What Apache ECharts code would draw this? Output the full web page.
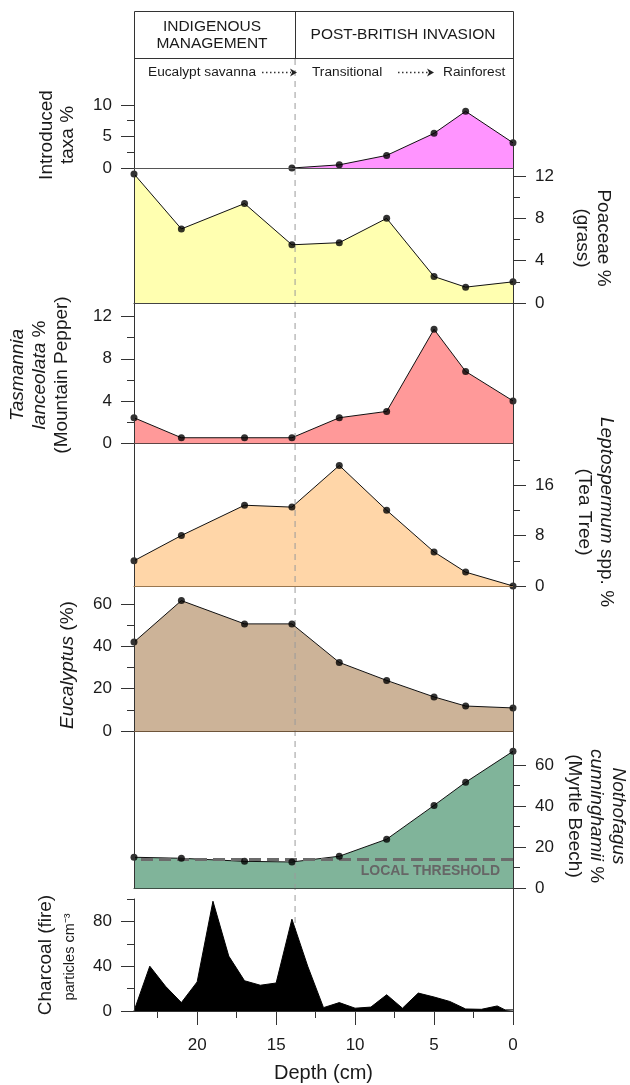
<!DOCTYPE html>
<html><head><meta charset="utf-8">
<script src="https://cdn.jsdelivr.net/npm/echarts@6/dist/echarts.min.js"></script>
<style>html,body{margin:0;padding:0;background:#fff}#c{width:630px;height:1085px}</style>
</head><body><div id="c"></div>
<script>
// ---------------- data ----------------
const depths = [24, 21, 17, 14, 11, 8, 5, 3, 0];
const introduced = [null, null, null, 0, 0.5, 2, 5.5, 9, 4];
const poaceae = [12.2, 7, 9.4, 5.5, 5.7, 8, 2.5, 1.5, 2];
const tasmannia = [2.4, 0.5, 0.5, 0.5, 2.4, 3, 10.8, 6.8, 4];
const leptospermum = [4, 8, 12.8, 12.5, 19.1, 12, 5.4, 2.2, 0];
const eucalyptus = [42, 61.6, 50.6, 50.6, 32.4, 23.9, 16.1, 11.8, 10.9];
const nothofagus = [15, 14.5, 13, 12.7, 15.5, 23.8, 40.3, 51.6, 66.7];
const charcoalDepths = [24, 23, 22, 21, 20, 19, 18, 17, 16, 15, 14, 13, 12, 11, 10, 9, 8, 7, 6, 5, 4, 3, 2, 1, 0.5, 0];
const charcoal = [0, 40, 22, 7.5, 26, 98, 49, 27, 23, 25, 82, 40, 3, 7.5, 2.5, 3.5, 14.5, 2.5, 16, 12.5, 8.5, 1.8, 1.5, 4.5, 1, 1];
const localThreshold = 14;
const boundaryDepth = 13.8;

const introducedTicks = [0, 5, 10], introducedMinor = [2.5, 7.5];
const poaceaeTicks = [0, 4, 8, 12], poaceaeMinor = [2, 6, 10];
const tasmanniaTicks = [0, 4, 8, 12], tasmanniaMinor = [2, 6, 10];
const leptoTicks = [0, 8, 16], leptoMinor = [4, 12, 20];
const eucTicks = [0, 20, 40, 60], eucMinor = [10, 30, 50];
const nothoTicks = [0, 20, 40, 60], nothoMinor = [10, 30, 50];
const charcoalTicks = [0, 40, 80], charcoalMinor = [20, 60, 100];
const depthTicks = [0, 5, 10, 15, 20], depthMinor = [2.5, 7.5, 12.5, 17.5, 22.5];

// ---------------- layout ----------------
const FONT = '"Liberation Sans", Arial, Helvetica, sans-serif';
const TXT = '#1a1a1a';
const AX = '#333';
const L = 134, R = 513, W = R - L;

const grids = [], xAxes = [], yAxes = [], series = [];
const hiddenX = (gi) => ({ type: 'value', gridIndex: gi, min: 0, max: 24, inverse: true, show: false, axisLine: { onZero: false } });
const line = (color, width) => ({ show: true, onZero: false, lineStyle: { color: color, width: width } });
const noLine = () => ({ show: false, onZero: false });

// left frame (header row down to bottom of Nothofagus panel)
(function () {
  const gi = grids.length;
  grids.push({ left: L, top: 58, width: W, height: 830 });
  xAxes.push(hiddenX(gi));
  yAxes.push({ type: 'value', gridIndex: gi, min: 0, max: 1, position: 'left', z: 10,
    axisLine: line(AX, 1), axisTick: { show: false }, axisLabel: { show: false }, splitLine: { show: false } });
})();

// right frame + boundary dashed line
(function () {
  const gi = grids.length;
  grids.push({ left: L, top: 58, width: W, height: 953 });
  const xi = xAxes.length;
  xAxes.push(hiddenX(gi));
  const yi = yAxes.length;
  yAxes.push({ type: 'value', gridIndex: gi, min: 0, max: 1, position: 'right', z: 10,
    axisLine: line(AX, 1), axisTick: { show: false }, axisLabel: { show: false }, splitLine: { show: false } });
  series.push({ type: 'line', xAxisIndex: xi, yAxisIndex: yi, z: 3, silent: true,
    data: [[boundaryDepth, 0], [boundaryDepth, 1]], symbol: 'none',
    lineStyle: { color: '#9a9a9a', width: 1, type: [6, 5] } });
})();

function minorGrid(p, xMinor) {
  const gi = grids.length;
  grids.push({ left: L, top: p.top, width: W, height: p.height });
  if (xMinor) {
    xAxes.push({ type: 'value', gridIndex: gi, min: 0, max: 24, inverse: true, z: 10, position: 'bottom',
      axisLine: noLine(),
      axisTick: { show: true, length: 7, customValues: xMinor, lineStyle: { color: AX } },
      axisLabel: { show: false }, splitLine: { show: false } });
  } else {
    xAxes.push(hiddenX(gi));
  }
  yAxes.push({ type: 'value', gridIndex: gi, min: 0, max: p.max, position: p.side, z: 10,
    axisLine: noLine(),
    axisTick: { show: true, inside: false, length: 7, customValues: p.minor, lineStyle: { color: AX, width: 1 } },
    axisLabel: { show: false }, splitLine: { show: false } });
}

function addPanel(p) {
  const gi = grids.length;
  grids.push({ left: L, top: p.top, width: W, height: p.height });
  const xi = xAxes.length;
  xAxes.push({ type: 'value', gridIndex: gi, min: 0, max: 24, inverse: true, z: 10, position: 'bottom',
    axisLine: line(p.base, 1.2), axisTick: { show: false }, axisLabel: { show: false }, splitLine: { show: false } });
  const yi = yAxes.length;
  yAxes.push({ type: 'value', gridIndex: gi, min: 0, max: p.max, position: p.side, z: 10,
    axisLine: line(AX, 1),
    axisTick: { show: true, inside: false, length: 13, customValues: p.major, lineStyle: { color: AX, width: 1 } },
    axisLabel: { show: true, customValues: p.major, fontSize: 17, color: TXT, fontFamily: FONT, margin: 22 },
    splitLine: { show: false } });
  const pts = [];
  depths.forEach((d, i) => { if (p.values[i] != null) pts.push([d, p.values[i]]); });
  const s = { type: 'line', xAxisIndex: xi, yAxisIndex: yi, z: 2, silent: true,
    data: pts, symbol: 'none',
    lineStyle: { color: '#111', width: 1 },
    areaStyle: { color: p.fill, opacity: 1 } };
  if (p.markLine) s.markLine = p.markLine;
  series.push(s);
  series.push({ type: 'scatter', xAxisIndex: xi, yAxisIndex: yi, z: 5, silent: true,
    data: pts, symbol: 'circle', symbolSize: 7, itemStyle: { color: '#000' } });
  minorGrid(p, null);
}

addPanel({ values: introduced, top: 58, height: 110, max: 17.46, side: 'left', major: introducedTicks, minor: introducedMinor, fill: '#ff94ff', base: '#555' });
addPanel({ values: poaceae, top: 168, height: 135, max: 12.76, side: 'right', major: poaceaeTicks, minor: poaceaeMinor, fill: '#ffffb0', base: '#444' });
addPanel({ values: tasmannia, top: 303, height: 140, max: 13.3, side: 'left', major: tasmanniaTicks, minor: tasmanniaMinor, fill: '#ff9999', base: '#5e4545' });
addPanel({ values: leptospermum, top: 443, height: 143, max: 22.66, side: 'right', major: leptoTicks, minor: leptoMinor, fill: '#ffd6a8', base: '#9a774f' });
addPanel({ values: eucalyptus, top: 586, height: 145, max: 68.5, side: 'left', major: eucTicks, minor: eucMinor, fill: '#ccb398', base: '#6e553a' });
addPanel({ values: nothofagus, top: 731, height: 157, max: 76.6, side: 'right', major: nothoTicks, minor: nothoMinor, fill: '#80b49a', base: '#3d4f45',
  markLine: { silent: true, symbol: ['none', 'none'], data: [{ yAxis: localThreshold }],
    lineStyle: { color: '#6b6b6b', width: 3, type: [12, 6] },
    label: { show: true, position: 'insideStartBottom', formatter: 'LOCAL THRESHOLD', color: '#666', fontWeight: 'bold', fontSize: 14, fontFamily: FONT, distance: [13, 5] } } });

// charcoal panel
(function () {
  const p = { top: 899, height: 112, max: 100, side: 'left', minor: charcoalMinor };
  const gi = grids.length;
  grids.push({ left: L, top: p.top, width: W, height: p.height });
  const xi = xAxes.length;
  xAxes.push({ type: 'value', gridIndex: gi, min: 0, max: 24, inverse: true, z: 10, position: 'bottom',
    axisLine: line(AX, 1),
    axisTick: { show: true, length: 14, customValues: depthTicks, lineStyle: { color: AX } },
    axisLabel: { show: true, customValues: depthTicks, fontSize: 17, color: TXT, fontFamily: FONT, margin: 26 },
    splitLine: { show: false },
    name: 'Depth (cm)', nameLocation: 'middle', nameGap: 52,
    nameTextStyle: { fontSize: 20, color: TXT, fontFamily: FONT } });
  const yi = yAxes.length;
  yAxes.push({ type: 'value', gridIndex: gi, min: 0, max: p.max, position: 'left', z: 10,
    axisLine: line(AX, 1),
    axisTick: { show: true, length: 13, customValues: charcoalTicks, lineStyle: { color: AX } },
    axisLabel: { show: true, customValues: charcoalTicks, fontSize: 17, color: TXT, fontFamily: FONT, margin: 22 },
    splitLine: { show: false } });
  series.push({ type: 'line', xAxisIndex: xi, yAxisIndex: yi, z: 4, silent: true,
    data: charcoalDepths.map((d, i) => [d, charcoal[i]]), symbol: 'none',
    lineStyle: { color: '#000', width: 1 }, areaStyle: { color: '#000', opacity: 1 } });
  minorGrid(p, depthMinor);
})();

function vText(x, y, text, rot, size, lh, rich) {
  return { type: 'text', x: x, y: y, rotation: rot, z: 20, silent: true,
    style: { text: text, fontSize: size, fontFamily: FONT, fill: TXT, align: 'center', verticalAlign: 'middle', lineHeight: lh, rich: rich || {} } };
}
const UP = Math.PI / 2, DOWN = -Math.PI / 2;
const it = { i: { fontStyle: 'italic', fontSize: 19, fontFamily: FONT, fill: TXT, lineHeight: 22 } };

const graphic = [
  { type: 'rect', z: 20, silent: true, shape: { x: 134.5, y: 11.5, width: 379, height: 47 }, style: { fill: 'none', stroke: AX, lineWidth: 1 } },
  { type: 'line', z: 20, silent: true, shape: { x1: 295.5, y1: 11.5, x2: 295.5, y2: 58.5 }, style: { stroke: AX, lineWidth: 1 } },
  { type: 'text', z: 20, silent: true, x: 212, y: 35, style: { text: 'INDIGENOUS\nMANAGEMENT', fontSize: 15.5, lineHeight: 17, fontFamily: FONT, fill: TXT, align: 'center', verticalAlign: 'middle' } },
  { type: 'text', z: 20, silent: true, x: 403, y: 35, style: { text: 'POST-BRITISH INVASION', fontSize: 15.5, fontFamily: FONT, fill: TXT, align: 'center', verticalAlign: 'middle' } },
  { type: 'text', z: 20, silent: true, x: 148, y: 72, style: { text: 'Eucalypt savanna', fontSize: 13.7, fontFamily: FONT, fill: TXT, align: 'left', verticalAlign: 'middle' } },
  { type: 'line', z: 20, silent: true, shape: { x1: 262, y1: 72.5, x2: 291, y2: 72.5 }, style: { stroke: '#333', lineWidth: 1.3, lineDash: [1.5, 2.5] } },
  { type: 'polygon', z: 20, silent: true, shape: { points: [[290, 68.5], [297, 72.5], [290, 76.5], [292, 72.5]] }, style: { fill: '#222' } },
  { type: 'text', z: 20, silent: true, x: 312, y: 72, style: { text: 'Transitional', fontSize: 13.7, fontFamily: FONT, fill: TXT, align: 'left', verticalAlign: 'middle' } },
  { type: 'line', z: 20, silent: true, shape: { x1: 398, y1: 72.5, x2: 428, y2: 72.5 }, style: { stroke: '#333', lineWidth: 1.3, lineDash: [1.5, 2.5] } },
  { type: 'polygon', z: 20, silent: true, shape: { points: [[427, 68.5], [434, 72.5], [427, 76.5], [429, 72.5]] }, style: { fill: '#222' } },
  { type: 'text', z: 20, silent: true, x: 443, y: 72, style: { text: 'Rainforest', fontSize: 13.7, fontFamily: FONT, fill: TXT, align: 'left', verticalAlign: 'middle' } },
  vText(57, 135, 'Introduced\ntaxa %', UP, 19, 21),
  vText(593, 238, 'Poaceae %\n(grass)', DOWN, 19, 21),
  vText(40, 375, '{i|Tasmannia}\n{i|lanceolata} %\n(Mountain Pepper)', UP, 19, 22, it),
  vText(595, 512, '{i|Leptospermum} spp. %\n(Tea Tree)', DOWN, 19, 22, it),
  vText(68, 665, '{i|Eucalyptus} (%)', UP, 19, 22, it),
  vText(596, 816, '{i|Nothofagus}\n{i|cunninghamii} %\n(Myrtle Beech)', DOWN, 19, 22, it),
  vText(46, 955, 'Charcoal (fire)', UP, 19, 22),
  vText(70, 957, 'particles cm\u207B\u00B3', UP, 14.5, 16)
];

const chart = echarts.init(document.getElementById('c'), null, { renderer: 'canvas' });
chart.setOption({
  animation: false,
  backgroundColor: '#fff',
  grid: grids, xAxis: xAxes, yAxis: yAxes, series: series, graphic: graphic
});
</script></body></html>
